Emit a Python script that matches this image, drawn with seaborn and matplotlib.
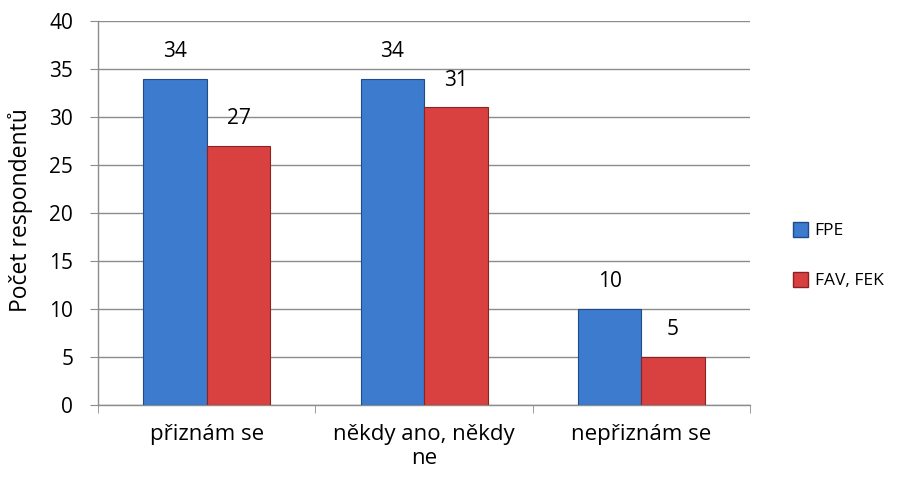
import matplotlib
matplotlib.use("Agg")
import matplotlib.pyplot as plt
import seaborn as sns
import pandas as pd
from matplotlib.ticker import FixedLocator
from matplotlib.patches import Patch

categories = ["přiznám se", "někdy ano, někdy\nne", "nepřiznám se"]
series_names = ["FPE", "FAV, FEK"]
fpe = [34, 34, 10]
fav_fek = [27, 31, 5]
yticks = [0, 5, 10, 15, 20, 25, 30, 35, 40]

df = pd.DataFrame({
    "kategorie": categories * 2,
    "skupina": [series_names[0]] * 3 + [series_names[1]] * 3,
    "hodnota": fpe + fav_fek,
})

sns.set_style("white")
plt.rcParams["font.family"] = ["Open Sans", "DejaVu Sans"]
plt.rcParams["text.color"] = "black"
plt.rcParams["axes.labelcolor"] = "black"
plt.rcParams["xtick.color"] = "black"
plt.rcParams["ytick.color"] = "black"

fig = plt.figure(figsize=(9.09, 4.79), dpi=100)
ax = fig.add_axes([0.108, 0.1545, 0.717, 0.8015])

colors = ["#3C7BCD", "#D8413F"]
edges = ["#1E4C8A", "#8C2322"]
sns.barplot(data=df, x="kategorie", y="hodnota", hue="skupina",
            palette=colors, saturation=1, width=0.585, ax=ax,
            legend=False, zorder=3)

for i, cont in enumerate(ax.containers):
    for p in cont:
        p.set_edgecolor(edges[i])
        p.set_linewidth(0.8)
    ax.bar_label(cont, fontsize=15, padding=12, color="black")

ax.set_ylim(0, 40)
ax.set_yticks(yticks)
ax.set_xlim(-0.5, 2.5)
ax.yaxis.grid(True, color="#8C8C8C", linewidth=1.0, zorder=0)
ax.set_axisbelow(True)
for s in ["top", "right"]:
    ax.spines[s].set_visible(False)
for s in ["left", "bottom"]:
    ax.spines[s].set_color("#8C8C8C")
    ax.spines[s].set_linewidth(1.0)

ax.tick_params(axis="y", length=6, color="#8C8C8C", labelsize=15,
               labelcolor="black", left=True, pad=12)
ax.tick_params(axis="x", which="major", length=0, labelsize=16,
               labelcolor="black", pad=14)
ax.xaxis.set_minor_locator(FixedLocator([-0.5, 0.5, 1.5, 2.5]))
ax.tick_params(axis="x", which="minor", length=6, color="#8C8C8C", bottom=True)
for t in ax.get_xticklabels():
    t.set_linespacing(1.15)
ax.set_xlabel("")
ax.set_ylabel("Počet respondentů", fontsize=16.5)
ax.yaxis.set_label_coords(-0.1, 0.508)

handles = [Patch(facecolor=colors[i], edgecolor=edges[i], label=series_names[i])
           for i in range(2)]
fig.legend(handles=handles, loc="center left", bbox_to_anchor=(0.855, 0.466),
           frameon=False, fontsize=12.5, handlelength=0.9, handleheight=0.9,
           handletextpad=0.35, labelspacing=1.9)

fig.savefig("out.png", dpi=100)
